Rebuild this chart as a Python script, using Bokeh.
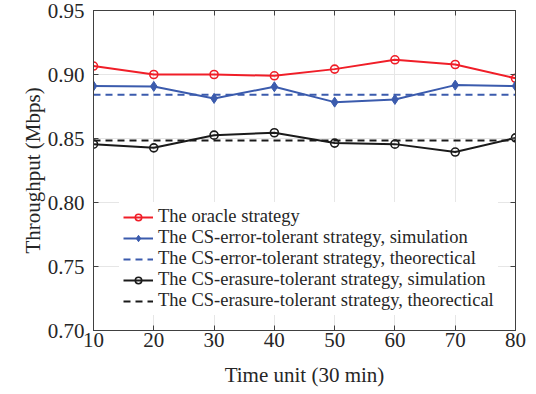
from bokeh.plotting import figure
from bokeh.models import (LinearAxis, Legend, LegendItem, Range1d, FixedTicker,
                          CustomJSTickFormatter)
from bokeh.embed import file_html
from bokeh.resources import INLINE

# Time units (30 min each) and measured throughput (Mbps)
time_units = [10, 20, 30, 40, 50, 60, 70, 80]
oracle = [0.9066, 0.9000, 0.9000, 0.8990, 0.9042, 0.9115, 0.9078, 0.8970]
err_sim = [0.8910, 0.8907, 0.8813, 0.8904, 0.8784, 0.8805, 0.8917, 0.8910]
err_theory = 0.8841
era_sim = [0.8456, 0.8427, 0.8526, 0.8545, 0.8464, 0.8456, 0.8394, 0.8505]
era_theory = 0.8484

x_ticks = [10, 20, 30, 40, 50, 60, 70, 80]
y_ticks = [0.70, 0.75, 0.80, 0.85, 0.90, 0.95]

FONT = "'Liberation Serif', serif"
TXT = "#262626"
RED = "#f01e28"
BLUE = "#3b5bad"
BLACK = "#1a1a1a"
EDGE = "#404040"

p = figure(width=536, height=394, output_backend="svg", toolbar_location=None,
           x_range=Range1d(10, 80), y_range=Range1d(0.70, 0.95),
           min_border_left=93, min_border_right=21, min_border_top=10,
           min_border_bottom=64)
p.background_fill_color = "white"
p.border_fill_color = "white"
p.outline_line_color = EDGE
p.outline_line_width = 1

for ax in (p.xaxis[0], p.yaxis[0]):
    ax.axis_line_color = EDGE
    ax.major_tick_in = 5
    ax.major_tick_out = 0
    ax.minor_tick_line_color = None
    ax.major_tick_line_color = EDGE
    ax.major_label_text_font = FONT
    ax.major_label_text_font_size = "21px"
    ax.major_label_text_color = TXT
    ax.axis_label_text_font = FONT
    ax.axis_label_text_font_size = "21px"
    ax.axis_label_text_font_style = "normal"
    ax.axis_label_text_color = TXT

p.xaxis.ticker = FixedTicker(ticks=x_ticks)
p.yaxis.ticker = FixedTicker(ticks=y_ticks)
p.yaxis.formatter = CustomJSTickFormatter(code="return tick.toFixed(2);")
p.xaxis.axis_label = "Time unit (30 min)"
p.yaxis.axis_label = "Throughput (Mbps)"
p.xaxis.major_label_standoff = 2
p.yaxis.major_label_standoff = 9
p.xaxis.axis_label_standoff = 13
p.yaxis.axis_label_standoff = 0

# tick marks on the top and right edges of the box (no labels)
for side in ("above", "right"):
    ax = LinearAxis(ticker=FixedTicker(ticks=x_ticks if side == "above" else y_ticks),
                    formatter=CustomJSTickFormatter(code="return '';"))
    ax.major_tick_in = 5
    ax.major_tick_out = 0
    ax.minor_tick_line_color = None
    ax.axis_line_color = EDGE
    ax.major_tick_line_color = EDGE
    ax.major_label_standoff = 0
    p.add_layout(ax, side)

p.xgrid.ticker = FixedTicker(ticks=x_ticks)
p.ygrid.ticker = FixedTicker(ticks=y_ticks)
p.grid.grid_line_color = "#e6e6e6"
p.grid.grid_line_width = 1

r_line = p.line(time_units, oracle, line_color=RED, line_width=2)
r_mark = p.scatter(time_units, oracle, marker="circle", size=8, line_color=RED,
                   line_width=1.6, fill_alpha=0)

b_line = p.line(time_units, err_sim, line_color=BLUE, line_width=2)
b_mark = p.scatter(time_units, err_sim, marker="diamond", size=10, line_color=BLUE,
                   fill_color=BLUE)
b_th = p.line([time_units[0], time_units[-1]], [err_theory, err_theory],
              line_color=BLUE, line_width=2, line_dash="7 5")

k_line = p.line(time_units, era_sim, line_color=BLACK, line_width=2)
k_mark = p.scatter(time_units, era_sim, marker="circle", size=8, line_color=BLACK,
                   line_width=1.6, fill_alpha=0)
k_th = p.line([time_units[0], time_units[-1]], [era_theory, era_theory],
              line_color=BLACK, line_width=2, line_dash="7 5")

legend = Legend(items=[
    LegendItem(label="The oracle strategy", renderers=[r_line, r_mark]),
    LegendItem(label="The CS-error-tolerant strategy, simulation", renderers=[b_line, b_mark]),
    LegendItem(label="The CS-error-tolerant strategy, theorectical", renderers=[b_th]),
    LegendItem(label="The CS-erasure-tolerant strategy, simulation", renderers=[k_line, k_mark]),
    LegendItem(label="The CS-erasure-tolerant strategy, theorectical", renderers=[k_th]),
], location=(26, 15))
legend.label_text_font = FONT
legend.label_text_font_size = "18.5px"
legend.label_text_color = TXT
legend.glyph_width = 30
legend.glyph_height = 16
legend.label_height = 16
legend.label_standoff = 5
legend.spacing = 0
legend.padding = 4
legend.margin = 0
legend.border_line_alpha = 0
legend.background_fill_color = "white"
legend.background_fill_alpha = 1
p.add_layout(legend, "center")

open("out.html", "w").write(file_html(p, INLINE))
